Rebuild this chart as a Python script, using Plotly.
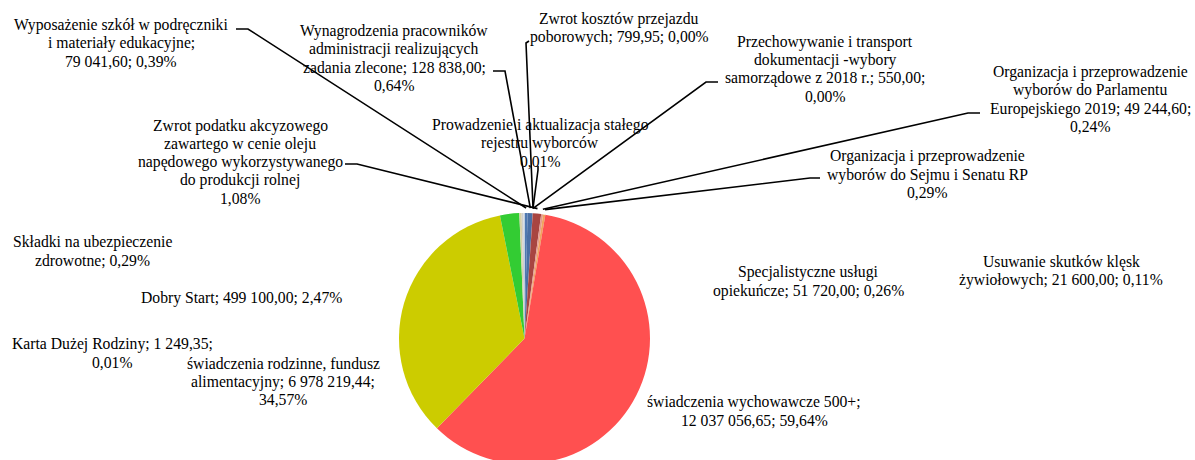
import math
import plotly.graph_objects as go

W, H = 1195, 468

# ---- data (slice order = clockwise from 12 o'clock) ----
names = [
    "Wyposażenie szkół w podręczniki i materiały edukacyjne",
    "Wynagrodzenia pracowników administracji realizujących zadania zlecone",
    "Prowadzenie i aktualizacja stałego rejestru wyborców",
    "Zwrot kosztów przejazdu poborowych",
    "Przechowywanie i transport dokumentacji -wybory samorządowe z 2018 r.",
    "Zwrot podatku akcyzowego zawartego w cenie oleju napędowego wykorzystywanego do produkcji rolnej",
    "Organizacja i przeprowadzenie wyborów do Parlamentu Europejskiego 2019",
    "Organizacja i przeprowadzenie wyborów do Sejmu i Senatu RP",
    "świadczenia wychowawcze 500+",
    "świadczenia rodzinne, fundusz alimentacyjny",
    "Dobry Start",
    "Karta Dużej Rodziny",
    "Składki na ubezpieczenie zdrowotne",
    "Specjalistyczne usługi opiekuńcze",
    "Usuwanie skutków klęsk żywiołowych",
]
values = [79041.60, 128838.00, 2000.00, 799.95, 550.00, 217900.00, 49244.60,
          58500.00, 12037056.65, 6978219.44, 499100.00, 1249.35, 58500.00,
          51720.00, 21600.00]
colors = ["#4F78B0", "#4A6FA5", "#8064A2", "#4BACC6", "#F79646", "#A84541",
          "#E59A8E", "#F0A35E", "#FF5050", "#CCCC00", "#33CC33", "#B7A6C9",
          "#D8CFA6", "#CFCFCF", "#DCE3EE"]
label_texts = [
    ["Wyposażenie szkół w podręczniki", "i materiały edukacyjne;", "79 041,60; 0,39%"],
    ["Wynagrodzenia pracowników", "administracji realizujących", "zadania zlecone; 128 838,00;", "0,64%"],
    ["Prowadzenie i aktualizacja stałego", "rejestru wyborców", "0,01%"],
    ["Zwrot kosztów przejazdu", "poborowych; 799,95; 0,00%"],
    ["Przechowywanie i transport", "dokumentacji -wybory", "samorządowe z 2018 r.; 550,00;", "0,00%"],
    ["Zwrot podatku akcyzowego", "zawartego w cenie oleju", "napędowego wykorzystywanego", "do produkcji rolnej", "1,08%"],
    ["Organizacja i przeprowadzenie", "wyborów do Parlamentu", "Europejskiego 2019; 49 244,60;", "0,24%"],
    ["Organizacja i przeprowadzenie", "wyborów do Sejmu i Senatu RP", "0,29%"],
    ["świadczenia wychowawcze 500+;", "12 037 056,65; 59,64%"],
    ["świadczenia rodzinne, fundusz", "alimentacyjny; 6 978 219,44;", "34,57%"],
    ["Dobry Start; 499 100,00; 2,47%"],
    ["Karta Dużej Rodziny; 1 249,35;", "0,01%"],
    ["Składki na ubezpieczenie", "zdrowotne; 0,29%"],
    ["Specjalistyczne usługi", "opiekuńcze; 51 720,00; 0,26%"],
    ["Usuwanie skutków klęsk", "żywiołowych; 21 600,00; 0,11%"],
]

# ---- layout (pixels) ----
label_centers = [(121, 43), (394, 58), (540, 143), (619, 28), (825, 69),
                 (240, 162), (1090, 99.5), (927, 174.5), (754, 411),
                 (283, 381.5), (241, 298), (112, 353.5), (92, 251),
                 (808, 281.5), (1061, 271)]
# leader lines: (label-side start, elbow) in pixels; None = no leader line
leaders = [((236, 29), (248, 29)), ((493, 71), (505, 71)), ((538, 166), (538, 170)),
           ((529, 41), (526, 43)), ((718, 82), (706, 82)), ((345, 164), (357, 164)),
           ((980, 113), (968, 113)), ((820, 178), (810, 178)),
           None, None, None, None, None, None, None]

CX, CY, R = 524.5, 338.5, 125.5
LINE_STEP = 18.2
FONT = dict(family="Liberation Serif, Times New Roman, serif", size=15.7, color="#000000")


def px2paper(x, y):
    return x / W, 1 - y / H


fig = go.Figure(go.Pie(
    labels=names, values=values, sort=False, direction="clockwise", rotation=0,
    marker=dict(colors=colors, line=dict(width=0)),
    textinfo="none", hoverinfo="label+value+percent", showlegend=False,
    domain=dict(x=[(CX - R) / W, (CX + R) / W],
                y=[(H - CY - R) / H, (H - CY + R) / H]),
))

annotations = []
for (cx, cy), lines in zip(label_centers, label_texts):
    n = len(lines)
    for i, t in enumerate(lines):
        x, y = px2paper(cx, cy + (i - (n - 1) / 2) * LINE_STEP)
        annotations.append(dict(x=x, y=y, xref="paper", yref="paper", text=t,
                                showarrow=False, xanchor="center", yanchor="middle",
                                font=FONT))

shapes = []
total = sum(values)
cum = 0.0
for v, ld in zip(values, leaders):
    mid = math.radians(360 * (cum + v / 2) / total)
    cum += v
    if ld is None:
        continue
    ex = CX + (R + 5) * math.sin(mid)
    ey = CY - (R + 5) * math.cos(mid)
    pts = [px2paper(*ld[0]), px2paper(*ld[1]), px2paper(ex, ey)]
    path = "M {} {} L {} {} L {} {}".format(*[c for p in pts for c in p])
    shapes.append(dict(type="path", path=path, xref="paper", yref="paper",
                       line=dict(color="#000000", width=1.6)))

fig.update_layout(width=W, height=H, margin=dict(l=0, r=0, t=0, b=0),
                  paper_bgcolor="#FFFFFF", plot_bgcolor="#FFFFFF",
                  annotations=annotations, shapes=shapes)

fig.write_html("out.html", config={"displayModeBar": False}, post_script=(
    "document.body.style.margin='0';document.body.style.overflow='hidden';"
    "document.documentElement.style.overflow='hidden';"))
